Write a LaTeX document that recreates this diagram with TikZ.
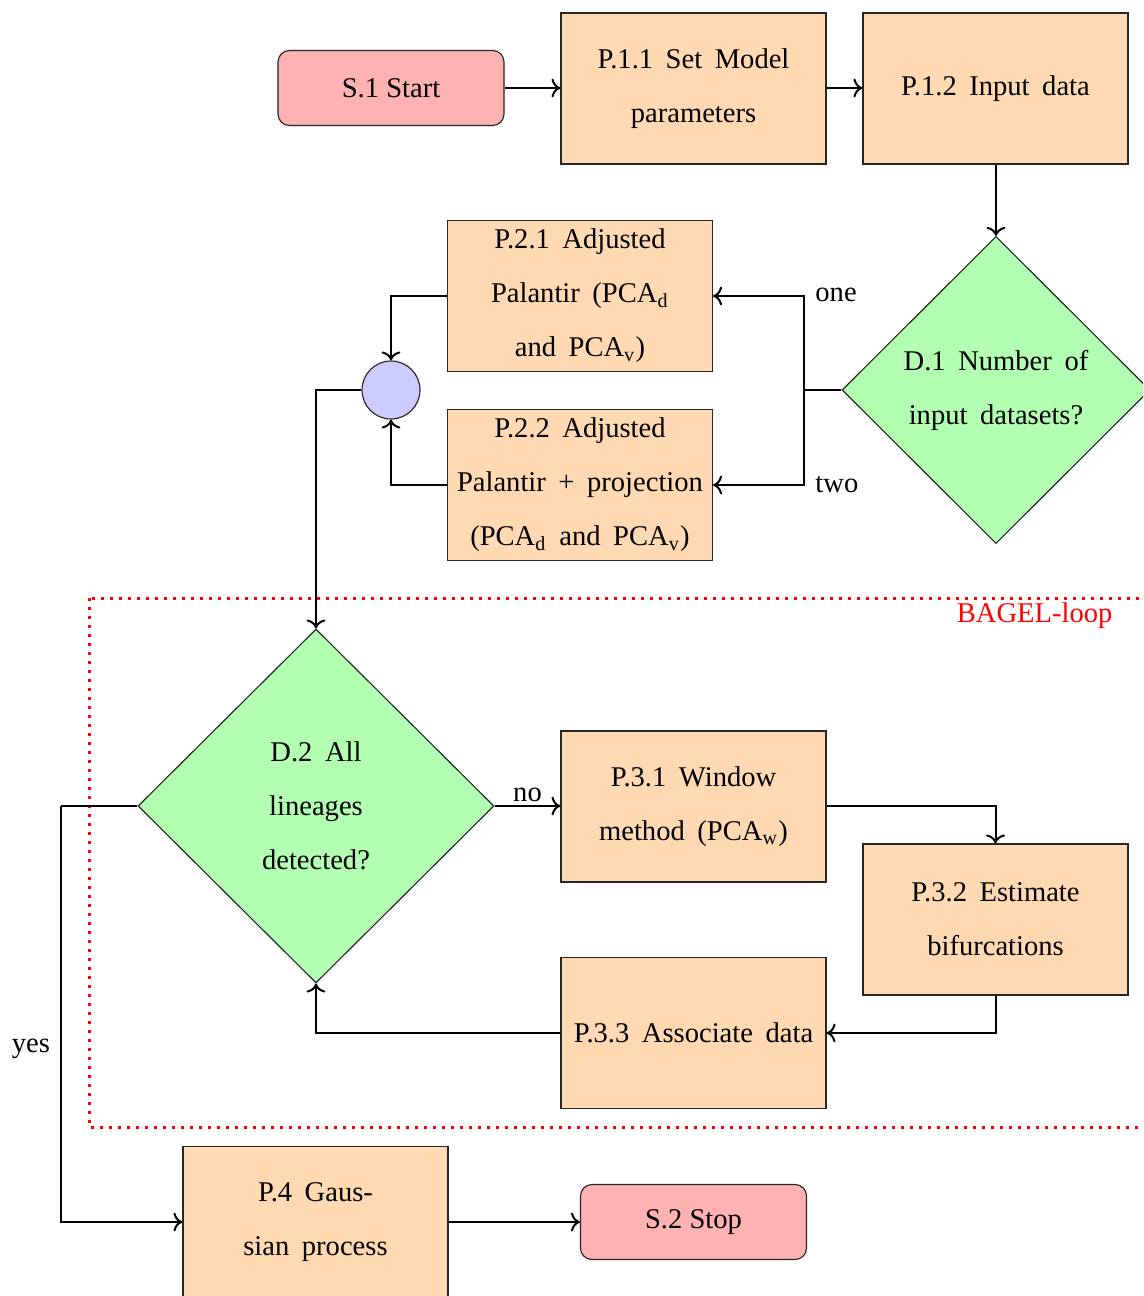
\documentclass[tikz,border=0pt]{standalone}
\usepackage{fontspec}
\setmainfont{Liberation Serif}
\usetikzlibrary{shapes.geometric,arrows.meta}
\begin{document}
\begin{tikzpicture}[x=0.35pt,y=-0.35pt,
  every node/.style={font=\fontsize{10pt}{18.9pt}\selectfont},
  wide/.style={execute at begin node={\spaceskip=4.4pt\relax}},
  proc/.style={wide, draw=black!85, line width=0.4pt, fill=orange!30, rectangle,
    minimum width=92.75pt, minimum height=52.85pt, inner sep=2pt, align=center},
  term/.style={draw=black!85, line width=0.4pt, fill=red!30, rectangle, rounded corners=4pt,
    minimum width=79.1pt, minimum height=26.25pt, inner sep=2pt, align=center},
  decis/.style={wide, draw=black!85, line width=0.4pt, fill=green!30, diamond, inner sep=0pt, align=center},
  joint/.style={draw=black!85, line width=0.4pt, fill=blue!20, circle, minimum size=20.3pt, inner sep=0pt},
  conn/.style={line width=0.7pt},
  lbl/.style={inner sep=1pt}
]
\useasboundingbox (0,0) rectangle (1143,1296);
\clip (0,0) rectangle (1143,1296);

% nodes
\node[term] (s1) at (391,88) {S.1 Start};
\node[proc] (p11) at (693.5,88.5) {P.1.1 Set Model\\parameters};
\node[proc] (p12) at (995.5,88.5) {P.1.2 Input data};
\node[decis, minimum width=107.8pt, minimum height=107.5pt] (d1) at (996,390) {D.1 Number of\\input datasets?};
\node[proc] (p21) at (580,296) {P.2.1 Adjusted\\Palantir (PCA\textsubscript{d}\\and PCA\textsubscript{v})};
\node[proc] (p22) at (580,485) {P.2.2 Adjusted\\Palantir + projection\\(PCA\textsubscript{d} and PCA\textsubscript{v})};
\node[joint] (c) at (391,390) {};
\node[decis, minimum width=124.6pt, minimum height=123.9pt] (d2) at (316,806) {D.2 All\\lineages\\detected?};
\node[proc] (p31) at (693.5,806.5) {P.3.1 Window\\method (PCA\textsubscript{w})};
\node[proc] (p32) at (995.5,919.5) {P.3.2 Estimate\\bifurcations};
\node[proc] (p33) at (693.5,1033) {P.3.3 Associate data};
\node[proc] (p4) at (315.5,1222) {P.4 Gaus-\\sian process};
\node[term] (s2) at (693.5,1222) {S.2 Stop};

% loop frame
\draw[red, line width=1.05pt, dash pattern=on 1.05pt off 2.1pt] (89,598) rectangle (1165,1127);
\node[red, anchor=north east, inner sep=0pt] (loop) at (1113,602) {BAGEL-loop};

% junction coordinates
\coordinate (j1) at (804,390);
\coordinate (jy) at (61,806);

% connectors
\draw[conn,->] (s1.east) -- (p11.west |- s1.east);
\draw[conn,->] (p11.east |- s1.east) -- (p12.west |- s1.east);
\draw[conn,->] (p12.south -| d1.north) -- (d1.north);
\draw[conn] (d1.west) -- (j1);
\draw[conn,->] (j1) |- (p21.east);
\draw[conn,->] (j1) |- (p22.east);
\node[lbl, anchor=west] (lone) at (812,295) {one};
\node[lbl, anchor=west] (ltwo) at (812,485) {two};
\draw[conn,->] (p21.west) -| (c.north);
\draw[conn,->] (p22.west) -| (c.south);
\draw[conn,->] (c.west) -| (d2.north);
\draw[conn,->] (d2.east) -- node[lbl, above] (lno) {no} (d2.east -| p31.west);
\draw[conn,->] (p31.east |- d2.east) -| (p32.north);
\draw[conn,->] (p32.south) |- (p33.east);
\draw[conn,->] (p33.west) -| (d2.south);
\draw[conn] (d2.west) -- (jy);
\draw[conn,->] (jy) |- (p4.west);
\node[lbl] (lyes) at (31,1049) {yes};
\draw[conn,->] (p4.east) -- (s2.west);
\end{tikzpicture}
\end{document}
